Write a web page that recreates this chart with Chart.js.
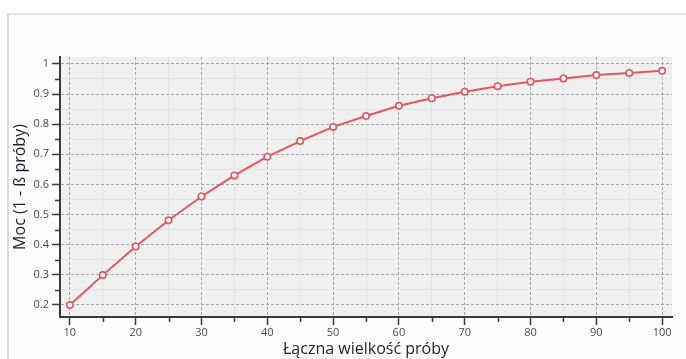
<!DOCTYPE html>
<html>
<head>
<meta charset="utf-8">
<script src="https://cdn.jsdelivr.net/npm/chart.js@4/dist/chart.umd.min.js"></script>
<style>
  html, body { margin: 0; padding: 0; background: #ffffff; }
  #wrap { position: relative; width: 686px; height: 359px; overflow: hidden; }
  #frame { position: absolute; left: 7px; top: 13px; width: 700px; height: 400px;
           border-left: 2px solid #dcdcdc; border-top: 2px solid #e2e2e2; background: #fefefe; }
  #c { position: absolute; left: 0; top: 0; }
</style>
</head>
<body>
<div id="wrap">
  <div id="frame"></div>
  <canvas id="c" width="686" height="359"></canvas>
</div>
<script>
// Total sample size vs. statistical power
const sampleSizes = [10, 15, 20, 25, 30, 35, 40, 45, 50, 55, 60, 65, 70, 75, 80, 85, 90, 95, 100];
const powerValues = [0.200, 0.299, 0.394, 0.481, 0.560, 0.630, 0.692, 0.744, 0.791, 0.827, 0.861, 0.886, 0.908, 0.926, 0.941, 0.952, 0.963, 0.970, 0.977];

// Axis ticks: majors carry labels and dashed grid lines, minors sit halfway between
const xTicks = [10, 15, 20, 25, 30, 35, 40, 45, 50, 55, 60, 65, 70, 75, 80, 85, 90, 95, 100];
const yTicks = [0.2, 0.25, 0.3, 0.35, 0.4, 0.45, 0.5, 0.55, 0.6, 0.65, 0.7, 0.75, 0.8, 0.85, 0.9, 0.95, 1];

const xTitle = 'Łączna wielkość próby';
const yTitle = 'Moc (1 - ß próby)';

const isMajorX = v => Math.abs(v % 10) < 1e-6;
const isMajorY = v => Math.abs(Math.round(v * 10) - v * 10) < 1e-6;

const AXIS = '#3b3b3b';
const TICK_TEXT = '#434a52';
const TITLE_TEXT = '#1c2030';

// Light plot-area fill plus short minor tick marks
const plotDecor = {
  id: 'plotDecor',
  beforeDraw(chart) {
    const { ctx, chartArea: a } = chart;
    ctx.save();
    ctx.fillStyle = '#f0f0f0';
    ctx.fillRect(a.left, a.top, a.right - a.left, a.bottom - a.top);
    ctx.restore();
  },
  afterDraw(chart) {
    const { ctx, chartArea: a, scales } = chart;
    ctx.save();
    ctx.strokeStyle = AXIS;
    ctx.lineWidth = 1.5;
    ctx.beginPath();
    xTicks.filter(v => !isMajorX(v)).forEach(v => {
      const px = Math.round(scales.x.getPixelForValue(v)) + 0.5;
      ctx.moveTo(px, a.bottom);
      ctx.lineTo(px, a.bottom + 5);
    });
    yTicks.filter(v => !isMajorY(v)).forEach(v => {
      const py = Math.round(scales.y.getPixelForValue(v)) + 0.5;
      ctx.moveTo(a.left - 5, py);
      ctx.lineTo(a.left, py);
    });
    ctx.stroke();
    ctx.restore();
  }
};

new Chart(document.getElementById('c'), {
  type: 'line',
  data: {
    datasets: [{
      data: sampleSizes.map((s, i) => ({ x: s, y: powerValues[i] })),
      borderColor: '#e5575d',
      borderWidth: 2,
      backgroundColor: '#ffffff',
      pointBackgroundColor: '#ffffff',
      pointBorderColor: '#e5575d',
      pointBorderWidth: 1.6,
      pointRadius: 3.2,
      tension: 0,
      fill: false
    }]
  },
  options: {
    responsive: false,
    animation: false,
    layout: { padding: { left: 8, top: 57, right: 14, bottom: 0 } },
    plugins: { legend: { display: false }, tooltip: { enabled: false } },
    scales: {
      x: {
        type: 'linear',
        min: 8.5,
        max: 101.5,
        afterBuildTicks: s => { s.ticks = xTicks.map(v => ({ value: v })); },
        afterFit: s => { s.height = 42; },
        border: {
          display: true, color: AXIS, width: 2,
          dash: ctx => (ctx.tick && isMajorX(ctx.tick.value)) ? [3, 2] : []
        },
        grid: {
          drawOnChartArea: true,
          drawTicks: true,
          tickLength: 8,
          tickWidth: 1.5,
          color: ctx => (ctx.tick && isMajorX(ctx.tick.value)) ? '#a6a6a6' : '#e3e3e3',
          tickColor: ctx => (ctx.tick && isMajorX(ctx.tick.value)) ? AXIS : 'rgba(0,0,0,0)',
          lineWidth: 1
        },
        ticks: {
          autoSkip: false,
          maxRotation: 0,
          padding: 1,
          color: TICK_TEXT,
          font: { family: 'Open Sans', size: 11 },
          callback: v => isMajorX(v) ? String(v) : ''
        },
        title: {
          display: true,
          text: xTitle,
          color: TITLE_TEXT,
          font: { family: 'Open Sans', size: 16 },
          padding: { top: 0, bottom: 0 }
        }
      },
      y: {
        type: 'linear',
        min: 0.16,
        max: 1.023,
        afterBuildTicks: s => { s.ticks = yTicks.map(v => ({ value: v })); },
        afterFit: s => { s.width = 52; },
        border: {
          display: true, color: AXIS, width: 2,
          dash: ctx => (ctx.tick && isMajorY(ctx.tick.value)) ? [3, 2] : []
        },
        grid: {
          drawOnChartArea: true,
          drawTicks: true,
          tickLength: 8,
          tickWidth: 1.5,
          color: ctx => (ctx.tick && isMajorY(ctx.tick.value)) ? '#a6a6a6' : '#e3e3e3',
          tickColor: ctx => (ctx.tick && isMajorY(ctx.tick.value)) ? AXIS : 'rgba(0,0,0,0)',
          lineWidth: 1
        },
        ticks: {
          autoSkip: false,
          padding: 3,
          color: TICK_TEXT,
          font: { family: 'Open Sans', size: 11 },
          callback: v => isMajorY(v) ? String(Math.round(v * 10) / 10) : ''
        },
        title: {
          display: true,
          text: yTitle,
          color: TITLE_TEXT,
          font: { family: 'Open Sans', size: 16 },
          padding: { top: 3, bottom: 0 }
        }
      }
    }
  },
  plugins: [plotDecor]
});
</script>
</body>
</html>
